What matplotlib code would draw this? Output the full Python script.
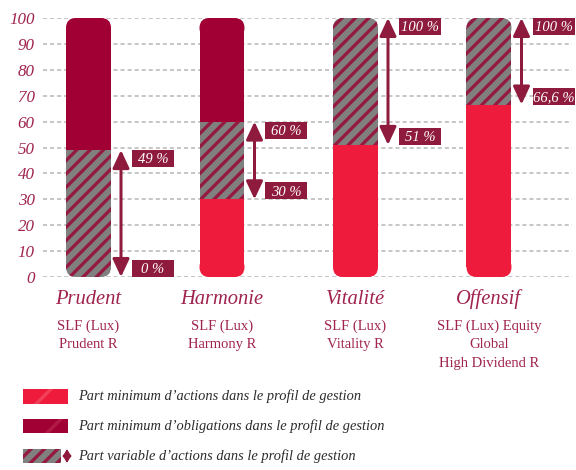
import matplotlib
matplotlib.use('Agg')
import matplotlib.pyplot as plt
from matplotlib.patches import Rectangle, FancyBboxPatch
from matplotlib.transforms import IdentityTransform

# Data
profiles = ['Prudent', 'Harmonie', 'Vitalité', 'Offensif']
funds = ['SLF (Lux)\nPrudent R', 'SLF (Lux)\nHarmony R', 'SLF (Lux)\nVitality R',
         'SLF (Lux) Equity\nGlobal\nHigh Dividend R']
min_actions = [0, 30, 51, 66.6]
max_actions = [49, 60, 100, 100]
low_labels = ['0 %', '30 %', '51 %', '66,6 %']
high_labels = ['49 %', '60 %', '100 %', '100 %']
legend_labels = ["Part minimum d\u2019actions dans le profil de gestion",
                 "Part minimum d\u2019obligations dans le profil de gestion",
                 "Part variable d\u2019actions dans le profil de gestion"]

RED = '#EE1B3C'
DARK = '#A00033'
STRIPE = '#941A40'
GRAY = '#808080'
BOX = '#8E1A3E'
TXT = '#A0234F'
SERIF = 'Liberation Serif'

plt.rcParams['hatch.linewidth'] = 2.0

W, H, DPI = 576, 470, 120
fig = plt.figure(figsize=(W / DPI, H / DPI), dpi=DPI)

# axes placed in pixel terms: x grid 43..572, y 0 -> 277 px, 100 -> 18 px
px_cat = 133.5      # pixels between bar centres
first_c = 88.5
ax = fig.add_axes([43 / W, (H - 277) / H, (572 - 43) / W, (277 - 18) / H])
ax.set_xlim((43 - first_c) / px_cat, (572 - first_c) / px_cat)
ax.set_ylim(0, 100)

dx = 1 / px_cat          # data units per pixel, x
dy = 100 / (277 - 18)    # data units per pixel, y
bar_w = 45 * dx
RAD = 10                 # corner radius, pixels

for s in ax.spines.values():
    s.set_visible(False)
ax.set_xticks([])
ax.set_yticks(range(0, 101, 10))
ax.set_yticklabels([str(v) for v in range(0, 101, 10)], fontstyle='italic',
                   family=SERIF, fontsize=10.2, color=TXT)
ax.tick_params(axis='y', length=0, pad=5.0)
ax.yaxis.grid(True, color='#b5b5b5', lw=0.9, ls=(0, (2.7, 2.0)))
ax.set_axisbelow(True)


def segment(left, y0, y1, end, **style):
    """Bar piece from y0 to y1; end='bottom'/'top' rounds that end."""
    ax.add_patch(Rectangle((left, y0 + (RAD * dy if end == 'bottom' else 0)), bar_w,
                           y1 - y0 - RAD * dy * (end is not None), lw=0, **style))
    if end is not None:
        a, b = (y0, y0 + 2 * RAD * dy) if end == 'bottom' else (y1 - 2 * RAD * dy, y1)
        px0, py0 = ax.transData.transform((left, a))
        px1, py1 = ax.transData.transform((left + bar_w, b))
        ax.add_patch(FancyBboxPatch((px0, py0), px1 - px0, py1 - py0,
                                    boxstyle=f'round,pad=0,rounding_size={RAD}',
                                    transform=IdentityTransform(), lw=0, **style))


for i, name in enumerate(profiles):
    left = i - bar_w / 2
    right = i + bar_w / 2
    lo, hi = min_actions[i], max_actions[i]

    pieces = [(0, lo, dict(fc=RED)),
              (lo, hi, dict(fc=GRAY, ec=STRIPE, hatch='///')),
              (hi, 100, dict(fc=DARK))]
    pieces = [p for p in pieces if p[1] > p[0]]
    for k, (a, b, st) in enumerate(pieces):
        end = 'bottom' if k == 0 else ('top' if k == len(pieces) - 1 else None)
        segment(left, a, b, end, **st)

    # double arrow for the variable share
    ax.annotate('', xy=(right + 10 * dx, lo), xytext=(right + 10 * dx, hi),
                arrowprops=dict(arrowstyle='<|-|>,head_length=0.9,head_width=0.42',
                                mutation_scale=10, color=BOX, lw=1.8,
                                shrinkA=0, shrinkB=0))
    # value boxes: upper one hangs from the top value, lower one sits on the bottom value
    bx = right + 21 * dx
    bw, bh = 42 * dx, 17 * dy
    for lab, ybox in [(high_labels[i], hi - bh), (low_labels[i], lo)]:
        ax.add_patch(Rectangle((bx, ybox), bw, bh, fc=BOX, lw=0, clip_on=False, zorder=3))
        ax.text(bx + bw / 2, ybox + 3.8 * dy, lab, ha='center', va='baseline',
                fontsize=8.8, fontstyle='italic', family=SERIF, color='white', zorder=4)

    ax.text(i, -22.5 * dy, name, ha='center', va='center', fontsize=12.3,
            fontstyle='italic', family=SERIF, color=TXT)
    ax.text(i, -42.5 * dy, funds[i], ha='center', va='top', fontsize=8.8,
            family=SERIF, color=TXT, linespacing=1.55)

# legend drawn in a pixel-space overlay
lg = fig.add_axes([0, 0, 1, 1])
lg.set_xlim(0, W)
lg.set_ylim(H, 0)
lg.axis('off')
lg.add_patch(Rectangle((23, 389), 45, 15, fc=RED, ec='#F2405A', lw=0, hatch='/'))
lg.add_patch(Rectangle((23, 419), 45, 14, fc=DARK, ec='#B01A45', lw=0, hatch='/'))
lg.add_patch(Rectangle((23, 449), 38, 14, fc=GRAY, ec=STRIPE, lw=0, hatch='///'))
lg.annotate('', xy=(67, 449), xytext=(67, 463),
            arrowprops=dict(arrowstyle='<|-|>,head_length=0.5,head_width=0.3',
                            mutation_scale=7, color=BOX, lw=1.0, shrinkA=0, shrinkB=0))
for y, lab in zip([396, 426, 456], legend_labels):
    lg.text(78, y, lab, ha='left', va='center', fontsize=8.65, fontstyle='italic',
            family=SERIF, color='#2b2b2b')

fig.savefig('out.png', dpi=DPI)
